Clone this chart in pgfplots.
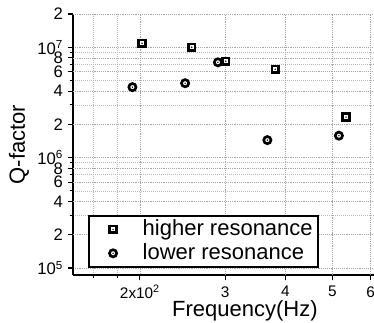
\documentclass[border=0pt]{standalone}
\usepackage{fontspec}
\setmainfont{Liberation Sans}
\usepackage{pgfplots}
\pgfplotsset{compat=1.18}

\pgfdeclareplotmark{sqdot}{%
  \pgfpathrectangle{\pgfqpoint{-\pgfplotmarksize}{-\pgfplotmarksize}}{\pgfqpoint{2\pgfplotmarksize}{2\pgfplotmarksize}}%
  \pgfusepathqfillstroke
  \begin{pgfscope}%
  \pgfsetfillcolor{black}%
  \pgfpathcircle{\pgfpointorigin}{0.6pt}%
  \pgfusepathqfill
  \end{pgfscope}}
\pgfdeclareplotmark{cidot}{%
  \pgfpathcircle{\pgfpointorigin}{\pgfplotmarksize}%
  \pgfusepathqfillstroke
  \begin{pgfscope}%
  \pgfsetfillcolor{black}%
  \pgfpathcircle{\pgfpointorigin}{0.6pt}%
  \pgfusepathqfill
  \end{pgfscope}}

\begin{document}
\begin{tikzpicture}
\useasboundingbox (0pt,0pt) rectangle (280.5pt,241.5pt);
\begin{axis}[
  at={(54.75pt,35.25pt)}, anchor=south west,
  scale only axis, width=225.75pt, height=195.75pt,
  xmode=log, ymode=log,
  xmin=145.4, xmax=610, ymin=8.64e4, ymax=2e7,
  axis lines*=left,
  axis line style={line width=1.5pt},
  tick style={black, line width=0.8pt},
  tick align=outside,
  major tick length=4pt, minor tick length=2.5pt,
  xtick={200}, xticklabels={2x10\textsuperscript{2}},
  extra x ticks={300,400,500,600}, extra x tick labels={3,4,5,6},
  extra x tick style={tick label style={font=\fontsize{8.5}{9}\selectfont, yshift=-1pt}},
  minor xtick={160,180},
  ytick={1e5,1e6,1e7},
  yticklabels={10\textsuperscript{5},10\textsuperscript{6},10\textsuperscript{7}},
  extra y ticks={2e5,4e5,6e5,8e5,2e6,4e6,6e6,8e6,2e7},
  extra y tick labels={2,4,6,8,2,4,6,8,2},
  extra y tick style={tick label style={font=\fontsize{9.5}{10}\selectfont}},
  minor ytick={3e5,5e5,7e5,9e5,3e6,5e6,7e6,9e6},
  x tick label style={font=\fontsize{11.5}{12}\selectfont},
  y tick label style={font=\fontsize{12.5}{13}\selectfont},
  grid=both,
  grid style={densely dotted, gray!70, line width=0.5pt},
  minor grid style={densely dotted, gray!55, line width=0.5pt},
  xlabel={Frequency(Hz)},
  ylabel={Q-factor},
  label style={font=\fontsize{16.5}{18}\selectfont},
  xlabel style={at={(axis description cs:0.571,0)}, anchor=base, yshift=-31.5pt},
  ylabel style={at={(axis description cs:0,0.5)}, anchor=center, yshift=40.5pt},
  legend style={at={(axis description cs:0.05,0.027)}, anchor=south west,
    draw=black, line width=1.5pt, fill=white,
    font=\fontsize{16.5}{18}\selectfont,
    inner xsep=2pt, inner ysep=1pt, row sep=-0.5pt, column sep=0pt,
    nodes={inner sep=2pt, text depth=0.25em}},
  legend image code/.code={%
    \path (-15.25pt,0pt) (19.5pt,0pt);
    \draw[#1] plot coordinates {(0pt,0pt)};},
  legend cell align=left,
  clip=false,
]
\addplot[only marks, mark=sqdot, mark size=2.5pt, mark options={line width=2pt, draw=black, fill=white}]
  coordinates {(202,1.087e7) (256,1.0e7) (301,7.47e6) (381,6.32e6) (534,2.33e6)};
\addlegendentry{higher resonance}
\addplot[only marks, mark=cidot, mark size=2.7pt, mark options={line width=2pt, draw=black, fill=white}]
  coordinates {(193,4.35e6) (248,4.72e6) (290,7.3e6) (367,1.44e6) (516,1.58e6)};
\addlegendentry{lower resonance}
\end{axis}
\end{tikzpicture}
\end{document}
